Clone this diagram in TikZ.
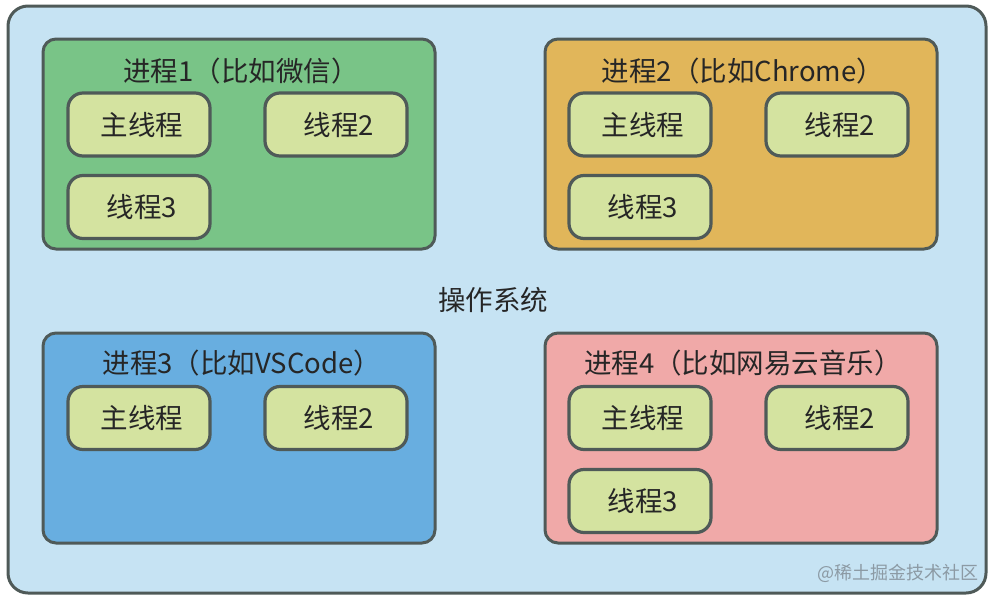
\documentclass[tikz,border=0pt]{standalone}
\usepackage{fontspec}
\setmainfont{Noto Sans CJK SC}
\definecolor{osfill}{HTML}{C6E3F3}
\definecolor{edge}{HTML}{4F5A58}
\definecolor{pgreen}{HTML}{79C487}
\definecolor{porange}{HTML}{E1B65A}
\definecolor{pblue}{HTML}{68AEE0}
\definecolor{ppink}{HTML}{F0A9A8}
\definecolor{tfill}{HTML}{D4E3A0}
\definecolor{txt}{HTML}{262626}
\definecolor{wm}{HTML}{8C9AA4}
\begin{document}
\begin{tikzpicture}[x=1pt,y=-1pt,
  osbox/.style={draw=edge,fill=osfill,line width=3pt,rounded corners=20pt},
  procbox/.style={draw=edge,line width=3pt,rounded corners=13pt},
  thread/.style={draw=edge,fill=tfill,line width=3.2pt,rounded corners=15pt,
    minimum width=142pt,minimum height=63pt,inner sep=0pt,
    text width=142pt,align=center,
    font=\fontsize{27.5}{30}\selectfont,text=txt},
  ptitle/.style={font=\fontsize{27.5}{30}\selectfont,text=txt,inner sep=0pt}]
\useasboundingbox (0,0) rectangle (998,600);
\draw[osbox] (8,6) rectangle (986,593);
% process 1
\draw[procbox,fill=pgreen] (43,39) rectangle (435,249);
\node[ptitle] (t1) at (241,71) {进程1（比如微信）};
\node[thread] (p1a) at (139,124.5) {\hspace*{6pt}主线程};
\node[thread] (p1b) at (336,124.5) {\hspace*{6pt}线程2};
\node[thread] (p1c) at (139,207) {\hspace*{6pt}线程3};
% process 2
\draw[procbox,fill=porange] (545,39) rectangle (937,249);
\node[ptitle] (t2) at (743,71) {进程2（比如Chrome）};
\node[thread] (p2a) at (640,124.5) {\hspace*{6pt}主线程};
\node[thread] (p2b) at (837,124.5) {\hspace*{6pt}线程2};
\node[thread] (p2c) at (640,207) {\hspace*{6pt}线程3};
% os label
\node[ptitle] (os) at (493,300) {操作系统};
% process 3
\draw[procbox,fill=pblue] (43,333) rectangle (435,543);
\node[ptitle] (t3) at (242,363) {进程3（比如VSCode）};
\node[thread] (p3a) at (139,418) {\hspace*{6pt}主线程};
\node[thread] (p3b) at (336,418) {\hspace*{6pt}线程2};
% process 4
\draw[procbox,fill=ppink] (545,333) rectangle (937,543);
\node[ptitle] (t4) at (743,363) {进程4（比如网易云音乐）};
\node[thread] (p4a) at (640,418) {\hspace*{6pt}主线程};
\node[thread] (p4b) at (837,418) {\hspace*{6pt}线程2};
\node[thread] (p4c) at (640,501) {\hspace*{6pt}线程3};
% watermark
\node[anchor=east,text=wm,font=\fontsize{18}{20}\selectfont,inner sep=0pt] (wmk) at (979,573) {@稀土掘金技术社区};
\end{tikzpicture}
\end{document}
